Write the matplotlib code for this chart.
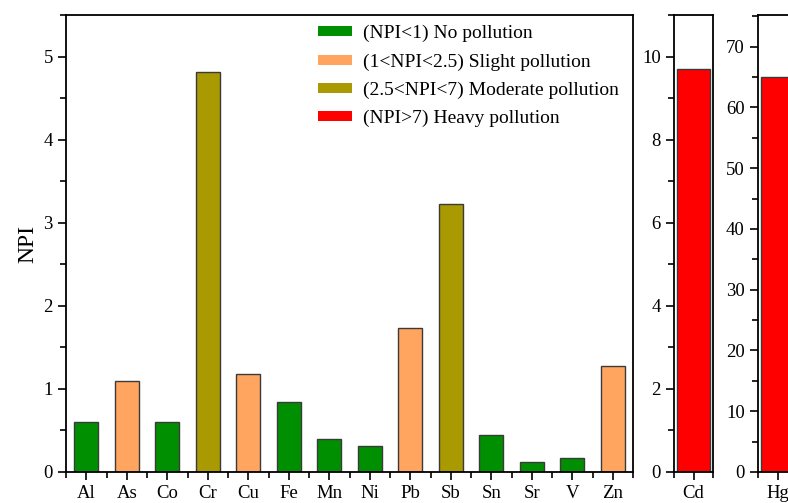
import matplotlib.pyplot as plt
from matplotlib.patches import Patch
from matplotlib.ticker import MultipleLocator

plt.rcParams['font.family'] = ['Liberation Serif', 'DejaVu Serif']

# data
elements = ["Al", "As", "Co", "Cr", "Cu", "Fe", "Mn", "Ni", "Pb", "Sb", "Sn", "Sr", "V", "Zn"]
npi = [0.60, 1.09, 0.60, 4.81, 1.18, 0.84, 0.40, 0.31, 1.73, 3.23, 0.44, 0.12, 0.17, 1.27]
cd_npi = [9.69]
hg_npi = [65.0]

class_labels = ["(NPI<1) No pollution", "(1<NPI<2.5) Slight pollution",
                "(2.5<NPI<7) Moderate pollution", "(NPI>7) Heavy pollution"]
class_colors = ["#008F00", "#FFA55F", "#A89A00", "#FF0000"]


def npi_color(v):
    if v < 1:
        return class_colors[0]
    if v < 2.5:
        return class_colors[1]
    if v < 7:
        return class_colors[2]
    return class_colors[3]


W, H = 788, 503
fig = plt.figure(figsize=(W / 100, H / 100), dpi=100)


def box(x0, x1, y0=15, y1=472):
    return [x0 / W, 1 - y1 / H, (x1 - x0) / W, (y1 - y0) / H]


def style(ax):
    for s in ax.spines.values():
        s.set_linewidth(1.3)
    ax.tick_params(which="both", direction="out", labelsize=13.5, width=1.2,
                   top=False, right=False)
    ax.tick_params(which="major", length=6)
    ax.tick_params(which="minor", length=4)


ax = fig.add_axes(box(66, 633))
xs = range(len(elements))
ax.bar(xs, npi, width=0.6, color=[npi_color(v) for v in npi],
       edgecolor="#3a3a3a", linewidth=1)
ax.set_xlim(-0.5, len(elements) - 0.5)
ax.set_ylim(0, 5.5)
ax.set_xticks(list(xs))
ax.set_xticklabels(elements)
ax.xaxis.set_minor_locator(MultipleLocator(1, offset=0.5))
ax.yaxis.set_major_locator(MultipleLocator(1))
ax.yaxis.set_minor_locator(MultipleLocator(0.5))
ax.set_ylabel("NPI", fontsize=17)
style(ax)

handles = [Patch(facecolor=c, edgecolor="none") for c in class_colors]
ax.legend(handles, class_labels, loc="upper left", bbox_to_anchor=(0.43, 0.995),
          borderaxespad=0, frameon=False, fontsize=14, handlelength=1.75,
          handleheight=0.42, labelspacing=0.56, handletextpad=0.57)

ax_cd = fig.add_axes(box(674, 713))
ax_cd.bar([0], cd_npi, width=0.84, color=[npi_color(v) for v in cd_npi],
          edgecolor="#3a3a3a", linewidth=1)
ax_cd.set_xlim(-0.5, 0.5)
ax_cd.set_ylim(0, 11)
ax_cd.set_xticks([0])
ax_cd.set_xticklabels(["Cd"])
ax_cd.set_xticks([-0.5, 0.5], minor=True)
ax_cd.yaxis.set_major_locator(MultipleLocator(2))
ax_cd.yaxis.set_minor_locator(MultipleLocator(1))
style(ax_cd)

ax_hg = fig.add_axes(box(758, 797))
ax_hg.bar([0], hg_npi, width=0.84, color=[npi_color(v) for v in hg_npi],
          edgecolor="#3a3a3a", linewidth=1)
ax_hg.set_xlim(-0.5, 0.5)
ax_hg.set_ylim(0, 75.2)
ax_hg.set_xticks([0])
ax_hg.set_xticklabels(["Hg"])
ax_hg.set_xticks([-0.5, 0.5], minor=True)
ax_hg.yaxis.set_major_locator(MultipleLocator(10))
ax_hg.yaxis.set_minor_locator(MultipleLocator(5))
style(ax_hg)

fig.savefig("out.png", dpi=100)
